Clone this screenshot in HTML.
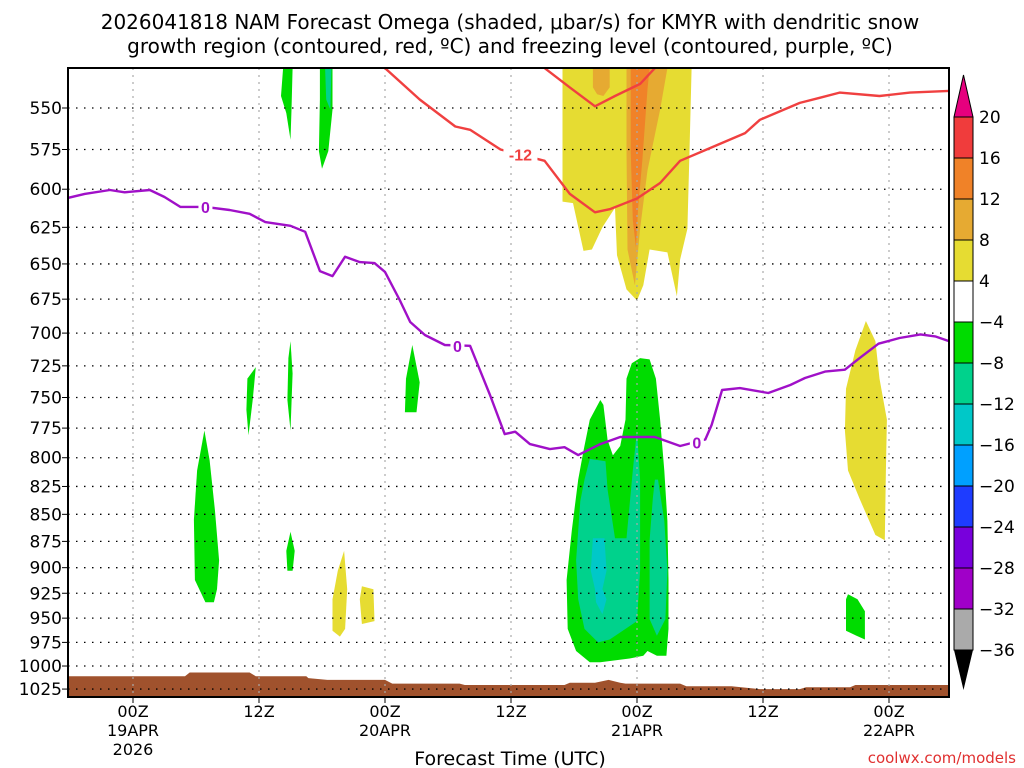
<!DOCTYPE html>
<html><head><meta charset="utf-8"><style>
html,body{margin:0;padding:0;background:#fff;}
svg{display:block;font-family:"Liberation Sans","DejaVu Sans",sans-serif;}
</style></head><body>
<svg id="chart" width="1024" height="768" viewBox="0 0 1024 768" xmlns="http://www.w3.org/2000/svg">
<rect width="1024" height="768" fill="#fff"/>
<text x="510" y="29" text-anchor="middle" font-size="20" font-family="DejaVu Sans, sans-serif">2026041818 NAM Forecast Omega (shaded, μbar/s) for KMYR with dendritic snow</text>
<text x="510" y="53" text-anchor="middle" font-size="20" font-family="DejaVu Sans, sans-serif">growth region (contoured, red, ºC) and freezing level (contoured, purple, ºC)</text>
<g id="plot"></g>
<text x="510" y="765" text-anchor="middle" font-size="19" font-family="DejaVu Sans, sans-serif">Forecast Time (UTC)</text>
<text x="1016" y="763" text-anchor="end" font-size="15" fill="#e03030" font-family="DejaVu Sans, sans-serif">coolwx.com/models</text>
</svg>
<script>
const pressureTicks=[550,575,600,625,650,675,700,725,750,775,800,825,850,875,900,925,950,975,1000,1025];
const timeTicks=[0,12,24,36,48,60,72];
const timeLabels=[["00Z","19APR","2026"],["12Z"],["00Z","20APR"],["12Z"],["00Z","21APR"],["12Z"],["00Z","22APR"]];
const cbLevels=[20,16,12,8,4,-4,-8,-12,-16,-20,-24,-28,-32,-36];
const cbColors=["#f03c3c","#f08228","#e6aa32","#e6dc32","#ffffff","#00dc00","#00d28c","#00c8c8","#00a0ff","#1e3cff","#7800dc","#a000c8","#aaaaaa"];
const dgzHours=[24.0,27.3,30.7,32.1,35.0,39.2,41.6,44.0,45.4,48.0,50.2,52.1,55.0,58.3,59.7,63.5,65.4,67.3,71.1,74.0,77.7];
const dgzPres=[527,545,561,563,575,582,603,615,613,606,596,582,574,565,557,547,544,541,543,541,540];
const dgz2Hours=[39.2,41.6,44.0,45.9,48.3,49.7];
const dgz2Pres=[527,538,549,543,536,527];
const frzHours=[-6.2,-4.6,-2.2,-0.8,1.6,3.0,4.5,6.9,9.2,11.1,12.6,15.0,16.4,17.8,19.0,20.2,21.6,23.0,24.0,25.4,26.4,27.8,29.7,32.1,34.0,35.4,36.4,37.8,39.7,41.1,42.4,44.5,46.4,49.7,52.1,54.5,55.1,56.1,57.8,60.5,62.6,64.0,65.9,67.8,69.2,71.0,73.0,75.0,76.4,77.7];
const frzPres=[605.6,603,600.5,602,600.5,605,611.5,611.5,613.5,616,621.5,624,628,655,658.5,645,648.7,649.4,655.6,675.6,691.7,701.4,709,709.6,748,780,778,788.4,792.6,791,797.7,788.4,782.4,782.4,790,784.5,772.4,744,742.5,746.4,740,734.5,729.5,728,719,708,703.7,701,702.5,706];
const sfcHours=[-6.2,4.95,5.4,11.1,11.7,16.5,16.7,18.5,24.0,24.7,31.1,31.6,41.1,41.6,44.0,45.3,46.4,46.9,52.1,52.7,57.0,59.7,63.5,64.1,68.3,68.8,77.7];
const sfcPres=[1011,1011,1007,1007,1011,1011,1013,1015,1015,1019,1019,1020.5,1020.5,1018,1018,1015,1018,1019,1019,1022,1022,1025,1025,1023,1023,1020.5,1020.5];
const omegaYellow=[
 [[40.9,527],[40.9,608],[41.9,609],[42.9,641],[43.7,640],[44.7,625],[45.9,612],[46.1,644],[47.0,668],[48.0,676],[48.6,665],[49.2,640],[50.9,642],[51.8,673],[52.1,647],[52.8,626],[53.0,576],[53.2,527]],
 [[20.1,884],[20.4,921],[20.2,961],[19.7,969],[19.0,963],[19.0,931],[19.5,903]],
 [[21.8,918],[22.9,921],[23.0,953],[21.8,956],[21.6,931]],
 [[69.8,691],[70.7,706],[71.1,735],[71.8,768],[71.7,811],[71.6,874],[70.7,869],[69.2,836],[68.1,811],[67.8,777],[67.9,743],[68.8,713]]];
const omegaDarkYellow=[
 [[43.8,527],[45.4,527],[45.4,538],[44.8,543],[44.2,542],[43.8,538]],
 [[47.0,527],[50.9,527],[50.2,551],[49.0,588],[48.3,626],[47.8,665],[47.1,640],[47.0,576]]];
const omegaOrange=[
 [[47.4,527],[49.2,527],[49.0,539],[48.5,582],[48.1,613],[47.9,639],[47.6,620],[47.4,576]]];
const omegaGreen=[
 [[14.3,527],[15.2,527],[15.1,551],[15.0,569],[14.6,553],[14.1,543]],
 [[17.8,527],[19.0,527],[19.0,551],[18.6,576],[18.0,587],[17.7,576],[17.8,545]],
 [[10.9,735],[11.7,726],[11.4,752],[11.0,781],[10.8,760]],
 [[15.0,706],[15.2,731],[15.0,777],[14.7,752],[14.8,719]],
 [[26.6,709],[27.3,738],[27.0,762],[25.9,762],[26.0,735]],
 [[6.8,777],[7.3,802],[7.8,846],[8.2,893],[8.0,921],[7.7,934],[6.9,934],[5.9,912],[5.8,855],[6.1,811]],
 [[15.0,866],[15.4,884],[15.2,903],[14.7,903],[14.6,884]],
 [[68.1,926],[69.0,931],[69.7,943],[69.7,972],[68.9,968],[67.9,963],[67.9,931]],
 [[48.3,719],[49.2,720],[49.8,735],[50.2,768],[50.6,811],[50.9,856],[51.0,912],[51.0,961],[50.8,989],[49.9,989],[49.0,984],[48.6,989],[47.3,992],[44.5,996],[43.5,996],[42.2,984],[41.4,961],[41.3,912],[41.8,864],[42.4,819],[42.9,794],[43.5,768],[44.5,752],[44.8,756],[45.2,785],[45.7,798],[46.4,790],[46.9,768],[47.0,735],[47.5,723]]];
const omegaTeal=[
 [[18.3,527],[18.9,527],[18.8,551],[18.4,545]],
 [[43.5,801],[45.0,803],[45.2,828],[45.9,872],[47.0,872],[47.6,811],[48.0,777],[48.3,819],[48.3,903],[48.0,953],[46.9,961],[45.4,972],[44.3,975],[43.0,961],[42.4,931],[42.2,893],[42.6,838],[43.0,819]],
 [[49.7,819],[50.0,819],[50.6,856],[50.9,903],[50.7,951],[49.9,968],[49.2,951],[49.2,874],[49.5,836]]];
const omegaCyan=[
 [[43.8,872],[44.9,872],[45.1,903],[44.7,921],[45.1,931],[44.7,946],[44.1,934],[44.0,921],[43.6,903]]];

const NS="http://www.w3.org/2000/svg";
const L=68,R=949,T=68,B=697;
const xs=h=>133+h*10.5;
const ys=p=>108+933.4*Math.log(p/550);
const g=document.getElementById('plot');
function mk(tag,attrs,parent){const e=document.createElementNS(NS,tag);for(const k in attrs)e.setAttribute(k,attrs[k]);(parent||g).appendChild(e);return e;}
const defs=mk('defs',{});
const cp=mk('clipPath',{id:'pc'},defs);mk('rect',{x:L,y:T,width:R-L,height:B-T},cp);
const pg=mk('g',{'clip-path':'url(#pc)'});
function polys(list,color,name){list.forEach(pts=>{const e=mk('polygon',{points:pts.map(q=>xs(q[0]).toFixed(1)+','+ys(q[1]).toFixed(1)).join(' '),fill:color},pg);

});}
polys(omegaYellow,cbColors[3],'omega-4-8-region');
polys(omegaDarkYellow,cbColors[2],'omega-8-12-region');
polys(omegaOrange,cbColors[1],'omega-12-16-region');
polys(omegaGreen,cbColors[5],'omega-neg4-neg8-region');
polys(omegaTeal,cbColors[6],'omega-neg8-neg12-region');
polys(omegaCyan,cbColors[7],'omega-neg12-neg16-region');
let tp='M'+xs(sfcHours[0])+','+B;
sfcHours.forEach((h,i)=>{tp+=' L'+xs(h).toFixed(1)+','+ys(sfcPres[i]).toFixed(1);});
tp+=' L'+R+','+B+' Z';
const terr=mk('path',{d:tp,fill:'#a0522d'},pg);


pressureTicks.forEach(p=>{const y=ys(p);
 const gl=mk('line',{x1:L,x2:R,y1:y,y2:y,stroke:'#000','stroke-width':1.3,'stroke-dasharray':'1.5 6.5'},pg);
 
 
 mk('line',{x1:L-6,x2:L,y1:y,y2:y,stroke:'#000','stroke-width':1});
 const t=mk('text',{x:62,y:y+6,'text-anchor':'end','font-size':17,'font-family':'DejaVu Sans, sans-serif'});t.textContent=p;
 
 
});
timeTicks.forEach((h,i)=>{const x=xs(h);
 const gl=mk('line',{x1:x,x2:x,y1:T,y2:B,stroke:'#aaa','stroke-width':1.2,'stroke-dasharray':'2 5'},pg);
 
 
 mk('line',{x1:x,x2:x,y1:B,y2:B+6,stroke:'#000','stroke-width':1});
 timeLabels[i].forEach((s,j)=>{const t=mk('text',{x:x,y:717+j*19,'text-anchor':'middle','font-size':16,'font-family':'DejaVu Sans, sans-serif'});t.textContent=s;
 
 });
});
function line(hs,ps,color,name){const d=hs.map((h,i)=>(i?'L':'M')+xs(h).toFixed(1)+','+ys(ps[i]).toFixed(1)).join(' ');
 const e=mk('path',{d:d,fill:'none',stroke:color,'stroke-width':2.4,'stroke-linejoin':'round','stroke-linecap':'round'},pg);
 
 }
line(dgzHours,dgzPres,'#f04040','dgz-minus12-contour');
line(dgz2Hours,dgz2Pres,'#f04040','dgz-minus18-contour');
line(frzHours,frzPres,'#a010c8','freezing-level-contour');
function clabel(h,p,txt,color,name){const x=xs(h),y=ys(p);
 mk('rect',{x:x-(txt.length*5+2),y:y-8,width:txt.length*10+4,height:16,fill:'#fff'},pg);
 const t=mk('text',{x:x,y:y+6,'text-anchor':'middle','font-size':16,'font-weight':'bold',fill:color},pg);t.textContent=txt;
 
 }
clabel(36.9,578,'-12','#f04040','dgz-contour-label');
clabel(6.9,611.5,'0','#a010c8','freezing-contour-label');
clabel(30.9,709.6,'0','#a010c8','freezing-contour-label');
clabel(53.7,787,'0','#a010c8','freezing-contour-label');
const fr=mk('rect',{x:L,y:T,width:R-L,height:B-T,fill:'none',stroke:'#000','stroke-width':2});


const cbX=954,cbW=19,cbTop=117,cbStep=41;
const cb=mk('g',{});


mk('polygon',{points:`${cbX},${cbTop} ${cbX+cbW/2},75 ${cbX+cbW},${cbTop}`,fill:'#e6007e',stroke:'#000','stroke-width':1},cb);
cbColors.forEach((c,i)=>{const r=mk('rect',{x:cbX,y:cbTop+i*cbStep,width:cbW,height:cbStep,fill:c,stroke:'#000','stroke-width':1},cb);
 
 });
const yb=cbTop+cbColors.length*cbStep;
mk('polygon',{points:`${cbX},${yb} ${cbX+cbW/2},690 ${cbX+cbW},${yb}`,fill:'#000'},cb);
cbLevels.forEach((v,i)=>{const t=mk('text',{x:979,y:cbTop+i*cbStep+6,'font-size':17,'font-family':'DejaVu Sans, sans-serif'},cb);
 t.textContent=v<0?'\u2212'+Math.abs(v):String(v);
 
 });
</script>
</body></html>
